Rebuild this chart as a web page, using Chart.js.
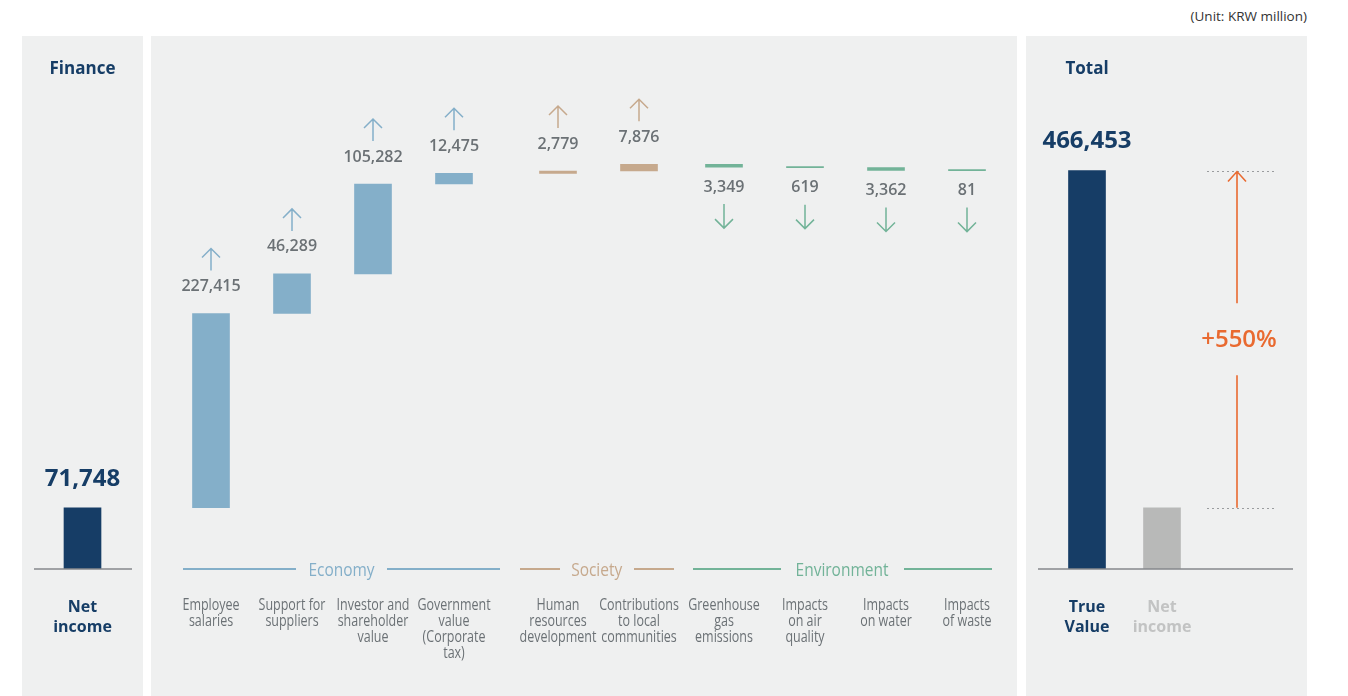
<!DOCTYPE html>
<html>
<head>
<meta charset="utf-8">
<script src="https://cdn.jsdelivr.net/npm/chart.js@4.4.0/dist/chart.umd.min.js"></script>
<style>
    body { margin: 0; width: 1348px; height: 696px; overflow: hidden; position: relative; background: #fff; font-family: 'Open Sans', sans-serif; }
    .panel { position: absolute; top: 36px; bottom: 0; background: #eff0f0; }
    canvas { position: absolute; top: 36px; }
    .unit { position: absolute; right: 41px; top: 7px; font-size: 13.5px; color: #333; }
    .group { position: absolute; top: 558px; height: 22px; display: flex; align-items: center; gap: 12px; font-size: 18px; }
    .group span { display: inline-block; transform: scaleX(0.86); margin: 0 -5px; white-space: nowrap; }
    .group::before, .group::after { content: ''; flex: 1; height: 2px; background: currentColor; }
</style>
</head>
<body>
<div class="panel" style="left:22px;width:121px"></div>
<div class="panel" style="left:151px;width:866px"></div>
<div class="panel" style="left:1026px;width:281px"></div>
<div class="unit">(Unit: KRW million)</div>

<canvas id="financeChart"></canvas>
<canvas id="economyChart"></canvas>
<canvas id="societyChart"></canvas>
<canvas id="environmentChart"></canvas>
<canvas id="totalChart"></canvas>

<div class="group" id="economyHead" style="left:183px;width:317px"><span></span></div>
<div class="group" id="societyHead" style="left:520px;width:154px"><span></span></div>
<div class="group" id="environmentHead" style="left:693px;width:299px"><span></span></div>

<script>
// Data (KRW million)
const financeLabels = [['Net', 'income']];
const netIncome = 71748;

const groupNames = ['Economy', 'Society', 'Environment'];

const economyLabels = [['Employee', 'salaries'], ['Support for', 'suppliers'], ['Investor and', 'shareholder', 'value'], ['Government', 'value', '(Corporate', 'tax)']];
const economyValues = [227415, 46289, 105282, 12475];

const societyLabels = [['Human', 'resources', 'development'], ['Contributions', 'to local', 'communities']];
const societyValues = [2779, 7876];

const environmentLabels = [['Greenhouse', 'gas', 'emissions'], ['Impacts', 'on air', 'quality'], ['Impacts', 'on water'], ['Impacts', 'of waste']];
const environmentValues = [-3349, -619, -3362, -81];

const totalLabels = [['True', 'Value'], ['Net', 'income'], ''];
const totalValue = 466453;

// Colours
const NAVY = '#163d66';
const ECON = '#84afc9';
const SOC = '#c6a98d';
const ENV = '#72b398';
const GREY = '#b8b9b8';
const ORANGE = '#e96a30';
const TEXT = '#6b7175';

const Y_MAX = 624000;
const CANVAS_H = 660;
const PAD_BOTTOM = 127;

// running totals for the floating bars
function waterfall(values, start) {
    let run = start;
    return values.map(v => {
        const seg = [run, run + v];
        run += v;
        return seg;
    });
}

const economyBars = waterfall(economyValues, netIncome);
const societyBars = waterfall(societyValues, economyBars[economyBars.length - 1][1]);
const environmentBars = waterfall(environmentValues, societyBars[societyBars.length - 1][1]);

function drawArrow(ctx, x, tail, tip, color, half, len, width) {
    const d = tip < tail ? 1 : -1;
    ctx.strokeStyle = color;
    ctx.lineWidth = width;
    ctx.beginPath();
    ctx.moveTo(x, tail);
    ctx.lineTo(x, tip);
    ctx.moveTo(x - half, tip + d * len);
    ctx.lineTo(x, tip);
    ctx.lineTo(x + half, tip + d * len);
    ctx.stroke();
}

// narrow text: no condensed face installed, so squeeze it
function narrowText(ctx, text, x, y, sx) {
    ctx.save();
    ctx.translate(x, y);
    ctx.scale(sx, 1);
    ctx.fillText(text, 0, 0);
    ctx.restore();
}

const fmt = v => Math.abs(v).toLocaleString('en-US');

const decoPlugin = {
    id: 'deco',
    afterDatasetsDraw(chart, args, opts) {
        const { ctx, scales: { x, y } } = chart;
        const base = y.getPixelForValue(0);
        const data = chart.data.datasets[0].data;
        ctx.save();
        ctx.textAlign = 'center';
        ctx.textBaseline = 'middle';

        if (opts.title) {
            ctx.font = 'bold 17px "Open Sans"';
            ctx.fillStyle = NAVY;
            ctx.fillText(opts.title, x.getPixelForValue(0), 33);
        }

        if (opts.baseline) {
            ctx.strokeStyle = '#86898c';
            ctx.lineWidth = 1.5;
            ctx.beginPath();
            ctx.moveTo(opts.baseline[0], base);
            ctx.lineTo(chart.width - opts.baseline[1], base);
            ctx.stroke();
        }

        data.forEach((seg, i) => {
            if (!seg) return;
            const cx = x.getPixelForValue(i);
            const top = Math.min(y.getPixelForValue(seg[0]), y.getPixelForValue(seg[1]));
            const bottom = Math.max(y.getPixelForValue(seg[0]), y.getPixelForValue(seg[1]));
            if (opts.mode === 'flow') {
                const v = opts.values[i];
                ctx.font = '600 16px "Open Sans"';
                ctx.fillStyle = TEXT;
                if (v > 0) {
                    ctx.fillText(fmt(v), cx, top - 27);
                    drawArrow(ctx, cx, top - 43, top - 65, opts.color, 9, 9, 1.5);
                } else {
                    ctx.fillText(fmt(v), cx, bottom + 20);
                    drawArrow(ctx, cx, bottom + 37, bottom + 61, opts.color, 9, 9, 1.5);
                }
            } else if (opts.bigLabels && opts.bigLabels[i]) {
                ctx.font = 'bold 24px "Open Sans"';
                ctx.fillStyle = NAVY;
                ctx.fillText(fmt(seg[1]), cx, top - 29);
            }
        });

        // category labels under the axis
        chart.data.labels.forEach((lab, i) => {
            const cx = x.getPixelForValue(i);
            const lines = Array.isArray(lab) ? lab : [lab];
            if (opts.mode === 'flow') {
                ctx.font = '16px "Open Sans"';
                ctx.fillStyle = TEXT;
                lines.forEach((t, k) => narrowText(ctx, t, cx, base + 36 + k * 16, 0.78));
            } else {
                ctx.font = 'bold 16px "Open Sans"';
                ctx.fillStyle = opts.labelColors[i];
                lines.forEach((t, k) => ctx.fillText(t, cx, base + 38 + k * 20));
            }
        });

        // growth annotation in the total panel
        if (opts.growth) {
            const ax = x.getPixelForValue(2);
            const yTop = y.getPixelForValue(totalValue);
            const yLow = y.getPixelForValue(netIncome);
            ctx.strokeStyle = '#9a9c9e';
            ctx.lineWidth = 1;
            ctx.setLineDash([2, 3]);
            [yTop, yLow].forEach(py => {
                ctx.beginPath();
                ctx.moveTo(ax - 30, Math.round(py) + 0.5);
                ctx.lineTo(ax + 38, Math.round(py) + 0.5);
                ctx.stroke();
            });
            ctx.setLineDash([]);
            const mid = (yTop + yLow) / 2;
            drawArrow(ctx, ax, mid - 36, yTop + 1, ORANGE, 9, 10, 1.6);
            ctx.beginPath();
            ctx.moveTo(ax, mid + 36);
            ctx.lineTo(ax, yLow);
            ctx.stroke();
            const pct = Math.round((totalValue / netIncome - 1) * 100);
            ctx.font = '600 24px "Open Sans"';
            ctx.fillStyle = ORANGE;
            ctx.fillText('+' + pct + '%', ax + 2, mid + 1);
        }
        ctx.restore();
    }
};

function makeChart(id, box, labels, data, colors, deco) {
    const cv = document.getElementById(id);
    cv.width = box.width;
    cv.height = CANVAS_H;
    cv.style.left = box.left + 'px';
    return new Chart(cv, {
        type: 'bar',
        data: {
            labels: labels,
            datasets: [{
                data: data,
                backgroundColor: colors,
                borderWidth: 0,
                barThickness: 37,
                minBarLength: 1
            }]
        },
        options: {
            responsive: false,
            animation: false,
            devicePixelRatio: 1,
            layout: { padding: { left: box.padL, right: box.padR, top: 0, bottom: PAD_BOTTOM } },
            scales: {
                x: { display: false },
                y: { display: false, min: 0, max: Y_MAX }
            },
            plugins: { legend: { display: false }, tooltip: { enabled: false }, deco: deco }
        },
        plugins: [decoPlugin]
    });
}

makeChart('financeChart', { left: 22, width: 121, padL: 0, padR: 0 },
    financeLabels, [[0, netIncome]], [NAVY],
    { title: 'Finance', baseline: [12, 11], bigLabels: [true], labelColors: [NAVY] });

makeChart('economyChart', { left: 151, width: 355, padL: 19.5, padR: 11.5 },
    economyLabels, economyBars, ECON,
    { mode: 'flow', values: economyValues, color: ECON });

makeChart('societyChart', { left: 506, width: 175, padL: 11.5, padR: 1.5 },
    societyLabels, societyBars, SOC,
    { mode: 'flow', values: societyValues, color: SOC });

makeChart('environmentChart', { left: 681, width: 336, padL: 2.5, padR: 9.5 },
    environmentLabels, environmentBars, ENV,
    { mode: 'flow', values: environmentValues, color: ENV });

makeChart('totalChart', { left: 1026, width: 281, padL: 23.5, padR: 32.5 },
    totalLabels, [[0, totalValue], [0, netIncome], null], [NAVY, GREY],
    { title: 'Total', baseline: [12, 14], bigLabels: [true, false], labelColors: [NAVY, '#c2c3c3'], growth: true });

// group headers
const heads = ['economyHead', 'societyHead', 'environmentHead'];
const headColors = [ECON, SOC, ENV];
heads.forEach((id, i) => {
    const el = document.getElementById(id);
    el.querySelector('span').textContent = groupNames[i];
    el.style.color = headColors[i];
});
</script>
</body>
</html>
